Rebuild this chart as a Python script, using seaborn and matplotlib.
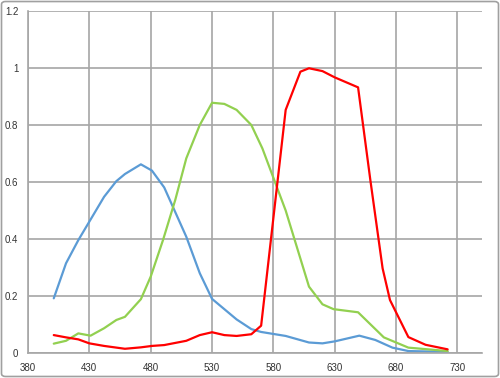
"""Three spectral response curves, Excel-style line chart."""
import matplotlib

matplotlib.use("Agg")
import matplotlib.pyplot as plt
import pandas as pd
import seaborn as sns
from matplotlib.patches import FancyBboxPatch

# wavelength (nm) / response
blue_x = [401, 411, 421, 442, 452, 459, 472, 481, 491, 509, 520, 530, 550, 562, 570,
          590, 609, 620, 630, 650, 663, 677, 690, 722]
blue_y = [0.192, 0.315, 0.396, 0.548, 0.603, 0.628, 0.662, 0.640, 0.581, 0.408, 0.280,
          0.190, 0.118, 0.084, 0.074, 0.060, 0.037, 0.034, 0.041, 0.061, 0.046, 0.019,
          0.007, 0.004]

green_x = [401, 411, 421, 431, 442, 452, 459, 472, 480, 490, 500, 509, 520, 530, 540, 550,
           562, 571, 590, 609, 620, 629, 649, 670, 690, 722]
green_y = [0.033, 0.043, 0.069, 0.061, 0.087, 0.116, 0.127, 0.189, 0.268, 0.396, 0.537,
           0.683, 0.800, 0.878, 0.874, 0.853, 0.800, 0.718, 0.500, 0.233, 0.171, 0.154,
           0.143, 0.055, 0.019, 0.007]

red_x = [401, 411, 421, 430, 442, 459, 472, 481, 491, 509, 520, 530, 540, 550, 562, 570,
         590, 602, 609, 620, 630, 649, 659, 669, 675, 690, 704, 722]
red_y = [0.063, 0.055, 0.048, 0.034, 0.025, 0.015, 0.020, 0.025, 0.028, 0.043, 0.063,
         0.073, 0.063, 0.060, 0.066, 0.096, 0.853, 0.987, 0.999, 0.989, 0.967, 0.932,
         0.607, 0.297, 0.186, 0.056, 0.029, 0.013]

x_ticks = [380, 430, 480, 530, 580, 630, 680, 730]
y_ticks = [0, 0.2, 0.4, 0.6, 0.8, 1, 1.2]
y_labels = ["0", "0.2", "0.4", "0.6", "0.8", "1", "1.2"]

frames = []
for name, xs, ys in [("blue", blue_x, blue_y), ("green", green_x, green_y), ("red", red_x, red_y)]:
    frames.append(pd.DataFrame({"nm": xs, "value": ys, "series": name}))
df = pd.concat(frames, ignore_index=True)

palette = {"blue": "#5B9BD5", "green": "#92D050", "red": "#FF0000"}

sns.set_style("white")
plt.rcParams["font.family"] = ["Liberation Sans", "DejaVu Sans"]

fig = plt.figure(figsize=(5, 3.78), dpi=100)
ax = fig.add_axes([0.056, 0.066, 0.908, 0.905])

sns.lineplot(data=df, x="nm", y="value", hue="series", palette=palette, sort=False,
             estimator=None, linewidth=1.6, legend=False, ax=ax)

grid_c = "#A6A6A6"
ax.set_xlim(380, 750)
ax.set_ylim(0, 1.2)
ax.set_xticks(x_ticks)
ax.set_yticks(y_ticks)
ax.set_yticklabels(y_labels)
ax.grid(True, color=grid_c, linewidth=1.2)
ax.set_axisbelow(True)
ax.tick_params(axis="both", length=4, width=1.2, color=grid_c, labelsize=7,
               labelcolor="#333333", pad=3)
ax.set_xlabel("")
ax.set_ylabel("")
for side in ["top", "right"]:
    ax.spines[side].set_visible(False)
for side in ["left", "bottom"]:
    ax.spines[side].set_color(grid_c)
    ax.spines[side].set_linewidth(1.2)

border = FancyBboxPatch((0.003, 0.004), 0.994, 0.992, boxstyle="round,pad=0,rounding_size=0.008",
                        transform=fig.transFigure, fill=False, edgecolor="#A0A0A0",
                        linewidth=1.2)
fig.patches.append(border)

fig.savefig("out.png", dpi=100)
